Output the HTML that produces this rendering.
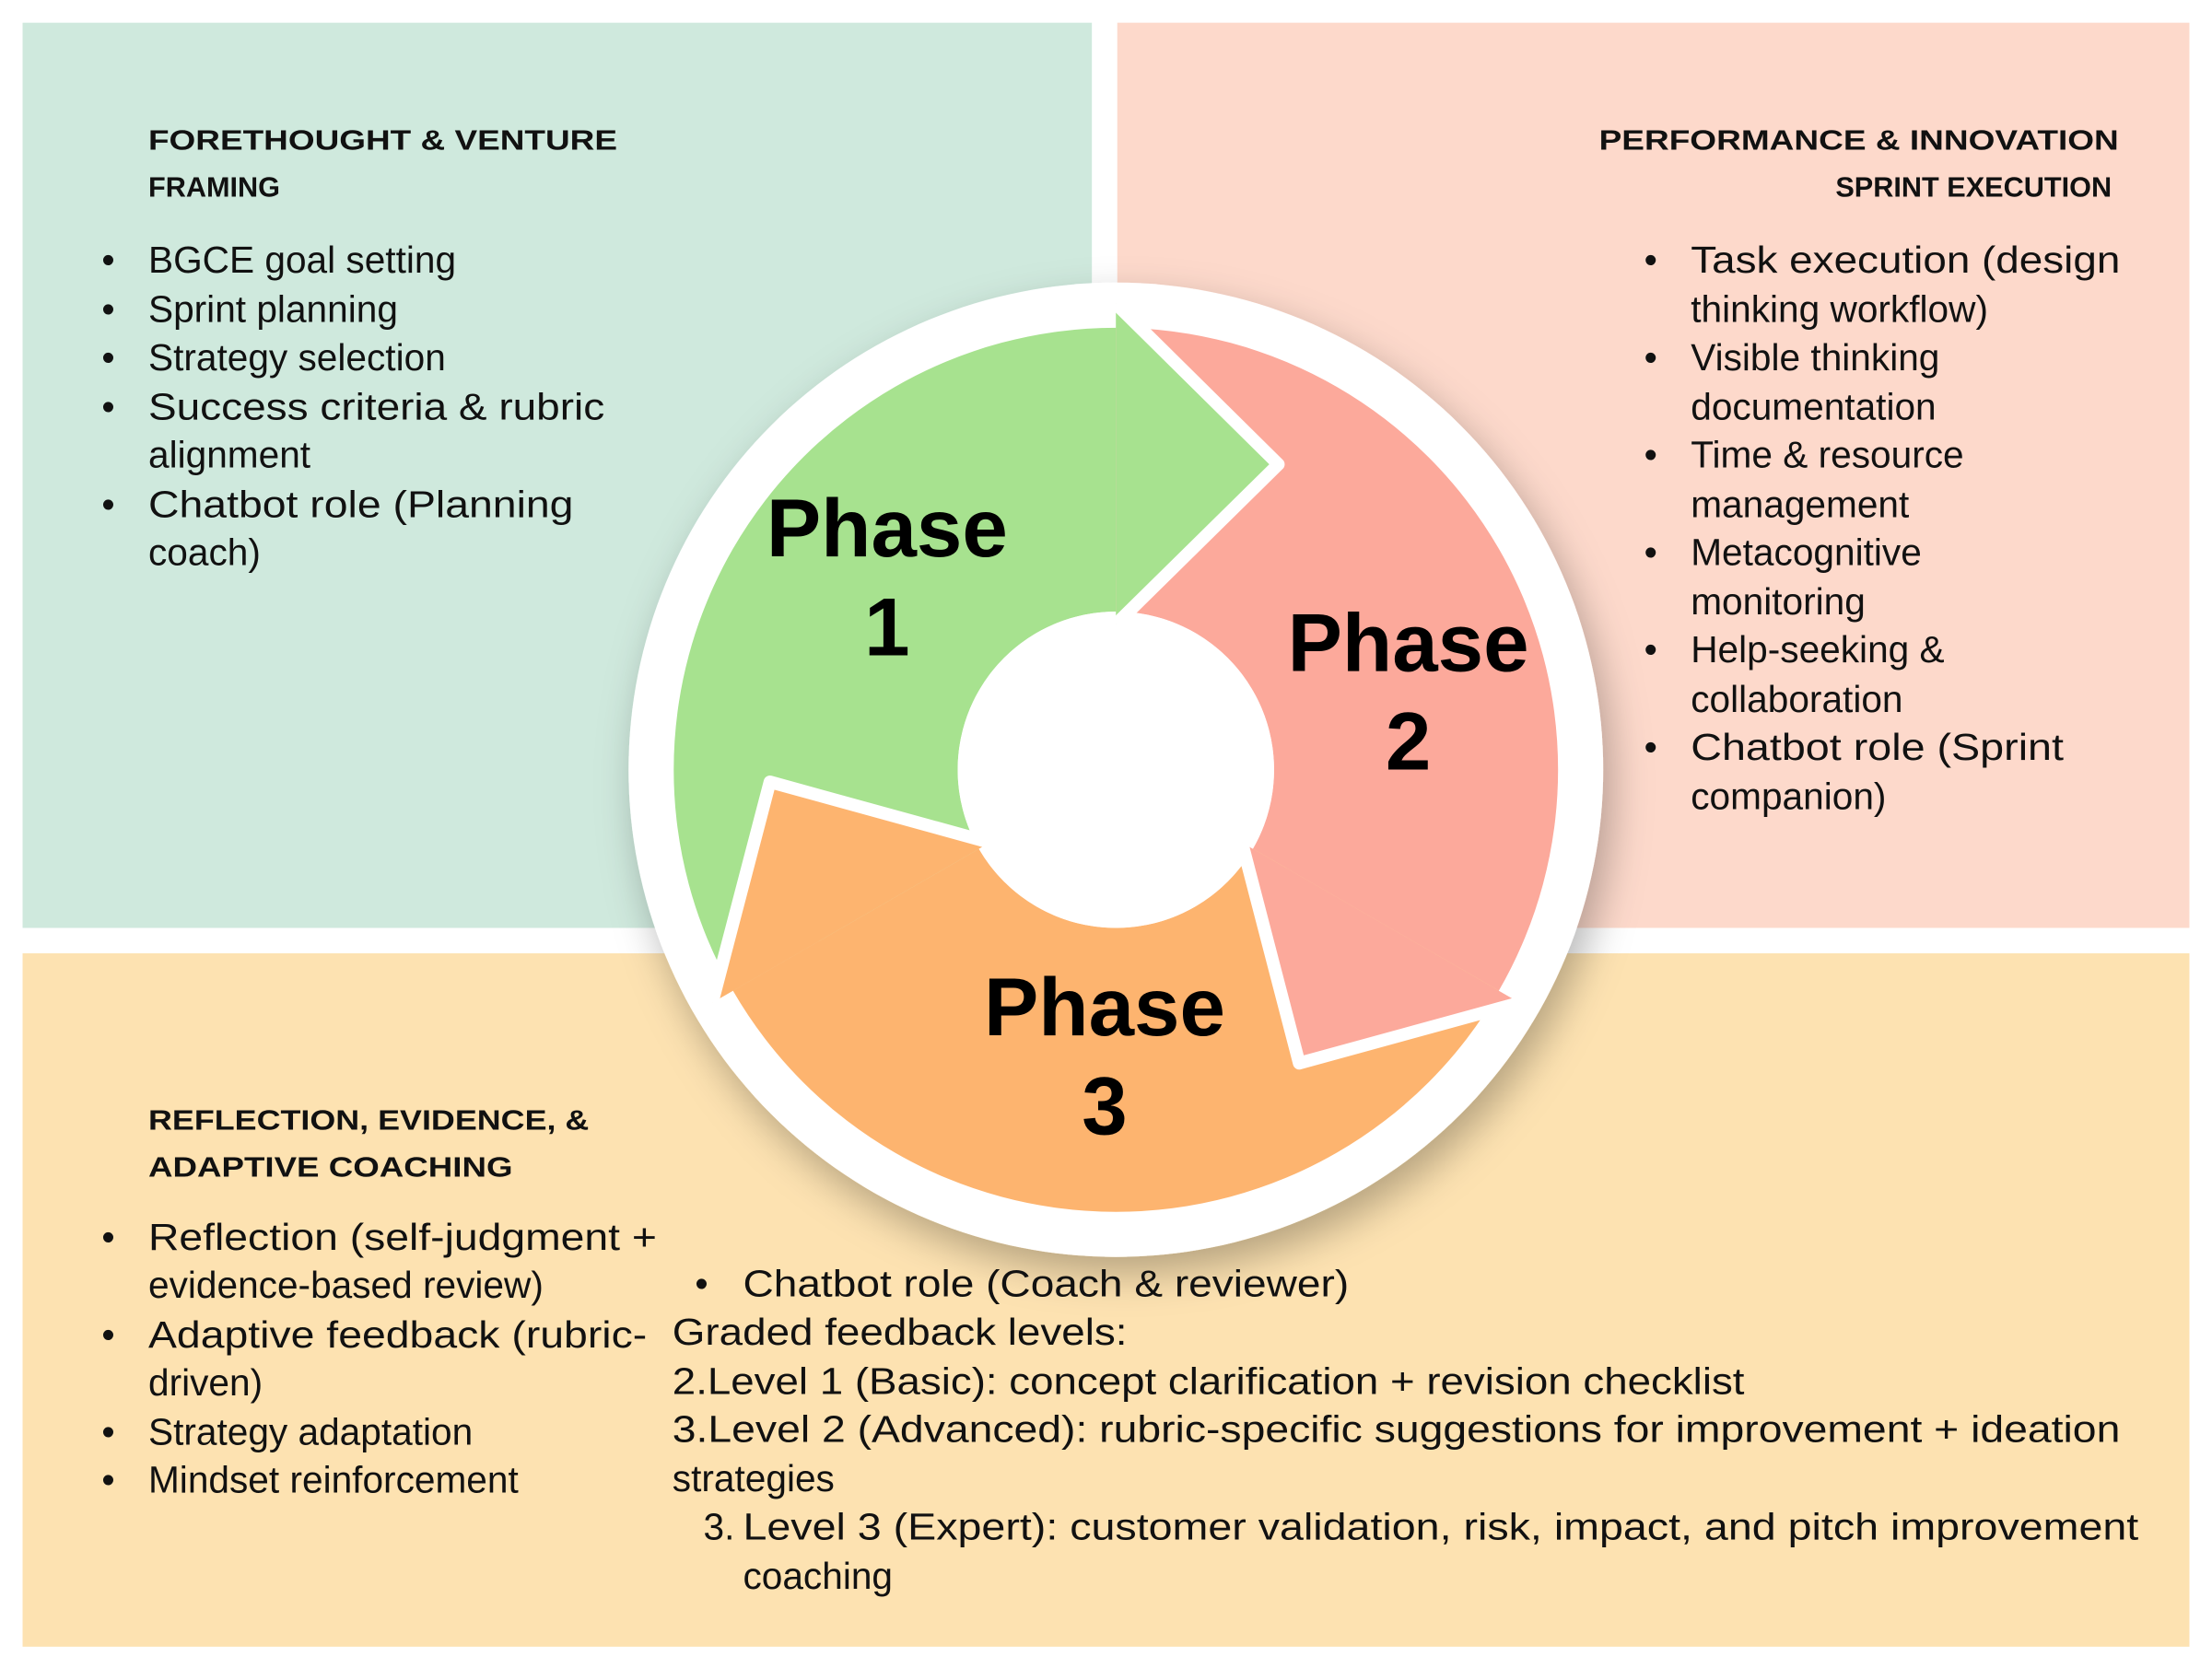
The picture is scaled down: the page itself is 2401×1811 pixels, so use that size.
<!DOCTYPE html>
<html><head><meta charset="utf-8"><style>
html,body{margin:0;padding:0;background:#fff;}
svg{display:block;}
.t{font-family:"Liberation Sans",sans-serif;font-size:26.5px;fill:#111;}
.h{font-family:"Liberation Sans",sans-serif;font-size:20px;font-weight:bold;fill:#111;}
.p{font-family:"Liberation Sans",sans-serif;font-size:58px;font-weight:bold;fill:#000;text-anchor:middle;}
</style></head><body>
<svg width="2401" height="1811" viewBox="0 0 1566 1181" xmlns="http://www.w3.org/2000/svg">
<defs><filter id="sh" x="-20%" y="-20%" width="140%" height="140%"><feDropShadow dx="6" dy="12" stdDeviation="14" flood-color="#000" flood-opacity="0.28"/></filter></defs>
<rect x="0" y="0" width="1566" height="1181" fill="#fff"/>
<rect x="16" y="16" width="757" height="641" fill="#cfe9dd"/>
<rect x="791" y="16" width="759" height="641" fill="#fdd9cb"/>
<rect x="16" y="675" width="1534" height="491" fill="#fde2b1"/>

<circle cx="790" cy="545" r="345" fill="#fff" filter="url(#sh)"/>
<!-- bodies -->
<path d="M518.9,701.5 A313,313 0 0 1 790,232 L790,433 A112,112 0 0 0 693,601 Z" fill="#a7e28f"/>
<path d="M790,232 A313,313 0 0 1 1061.1,701.5 L887,601 A112,112 0 0 0 790,433 Z" fill="#fca99b"/>
<path d="M1061.1,701.5 A313,313 0 0 1 518.9,701.5 L693,601 A112,112 0 0 0 887,601 Z" fill="#fdb46f"/>
<circle cx="790" cy="545" r="112" fill="#fff"/>
<!-- heads -->
<polygon points="790,215 905,328.7 790,442" fill="#a7e28f"/>
<polyline points="790,215 905,328.7 790,442" fill="none" stroke="#fff" stroke-width="9" stroke-linejoin="round"/>
<polygon points="1075.8,710 919.8,752.8 879.2,596.5" fill="#fca99b"/>
<polyline points="1075.8,710 919.8,752.8 879.2,596.5" fill="none" stroke="#fff" stroke-width="9" stroke-linejoin="round"/>
<polygon points="504.2,710 545.1,553.6 700.8,596.5" fill="#fdb46f"/>
<polyline points="504.2,710 545.1,553.6 700.8,596.5" fill="none" stroke="#fff" stroke-width="9" stroke-linejoin="round"/>

<text class="p" x="628" y="394">Phase</text><text class="p" x="628" y="464">1</text>
<text class="p" x="997" y="475">Phase</text><text class="p" x="997" y="545">2</text>
<text class="p" x="782" y="733">Phase</text><text class="p" x="782" y="803">3</text>

<!-- top-left -->
<text class="h" x="105" y="106" textLength="332" lengthAdjust="spacingAndGlyphs">FORETHOUGHT &amp; VENTURE</text>
<text class="h" x="105" y="139">FRAMING</text>
<g class="t">
<text x="72" y="193">•</text><text x="105" y="193">BGCE goal setting</text>
<text x="72" y="228">•</text><text x="105" y="228">Sprint planning</text>
<text x="72" y="262">•</text><text x="105" y="262">Strategy selection</text>
<text x="72" y="297">•</text><text x="105" y="297" textLength="323" lengthAdjust="spacingAndGlyphs">Success criteria &amp; rubric</text>
<text x="105" y="331">alignment</text>
<text x="72" y="366">•</text><text x="105" y="366" textLength="301" lengthAdjust="spacingAndGlyphs">Chatbot role (Planning</text>
<text x="105" y="400">coach)</text>
</g>

<!-- top-right -->
<text class="h" x="1500" y="106" text-anchor="end" textLength="368" lengthAdjust="spacingAndGlyphs">PERFORMANCE &amp; INNOVATION</text>
<text class="h" x="1495" y="139" text-anchor="end">SPRINT EXECUTION</text>
<g class="t">
<text x="1164" y="193">•</text><text x="1197" y="193" textLength="304" lengthAdjust="spacingAndGlyphs">Task execution (design</text>
<text x="1197" y="228">thinking workflow)</text>
<text x="1164" y="262">•</text><text x="1197" y="262">Visible thinking</text>
<text x="1197" y="297">documentation</text>
<text x="1164" y="331">•</text><text x="1197" y="331">Time &amp; resource</text>
<text x="1197" y="366">management</text>
<text x="1164" y="400">•</text><text x="1197" y="400">Metacognitive</text>
<text x="1197" y="435">monitoring</text>
<text x="1164" y="469">•</text><text x="1197" y="469">Help-seeking &amp;</text>
<text x="1197" y="504">collaboration</text>
<text x="1164" y="538">•</text><text x="1197" y="538" textLength="264" lengthAdjust="spacingAndGlyphs">Chatbot role (Sprint</text>
<text x="1197" y="573">companion)</text>
</g>

<!-- bottom -->
<text class="h" x="105" y="800" textLength="312" lengthAdjust="spacingAndGlyphs">REFLECTION, EVIDENCE, &amp;</text>
<text class="h" x="105" y="833" textLength="258" lengthAdjust="spacingAndGlyphs">ADAPTIVE COACHING</text>
<g class="t">
<text x="72" y="885">•</text><text x="105" y="885" textLength="360" lengthAdjust="spacingAndGlyphs">Reflection (self-judgment +</text>
<text x="105" y="919">evidence-based review)</text>
<text x="72" y="954">•</text><text x="105" y="954" textLength="353" lengthAdjust="spacingAndGlyphs">Adaptive feedback (rubric-</text>
<text x="105" y="988">driven)</text>
<text x="72" y="1023">•</text><text x="105" y="1023">Strategy adaptation</text>
<text x="72" y="1057">•</text><text x="105" y="1057">Mindset reinforcement</text>

<text x="492" y="918">•</text><text x="526" y="918" textLength="429" lengthAdjust="spacingAndGlyphs">Chatbot role (Coach &amp; reviewer)</text>
<text x="476" y="952" textLength="322" lengthAdjust="spacingAndGlyphs">Graded feedback levels:</text>
<text x="476" y="987" textLength="759" lengthAdjust="spacingAndGlyphs">2.Level 1 (Basic): concept clarification + revision checklist</text>
<text x="476" y="1021" textLength="1025" lengthAdjust="spacingAndGlyphs">3.Level 2 (Advanced): rubric-specific suggestions for improvement + ideation</text>
<text x="476" y="1056">strategies</text>
<text x="498" y="1090">3.</text><text x="526" y="1090" textLength="988" lengthAdjust="spacingAndGlyphs">Level 3 (Expert): customer validation, risk, impact, and pitch improvement</text>
<text x="526" y="1125">coaching</text>
</g>
</svg>
</body></html>
